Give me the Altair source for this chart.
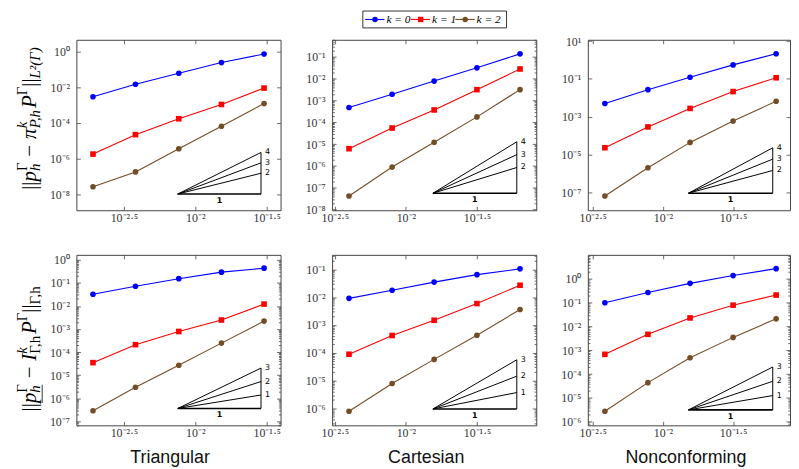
import math
import altair as alt
import pandas as pd

# ---------------- data ----------------
SERIES = ["k = 0", "k = 1", "k = 2"]
COLORS = ["#0000ff", "#ff0000", "#734d26"]
SHAPES = ["circle", "square", "circle"]
COLUMN_TITLES = ["Triangular", "Cartesian", "Nonconforming"]

h_triangular = [0.00192, 0.00381, 0.00766, 0.01524, 0.0303]
h_cartesian = [0.00398, 0.0080, 0.0158, 0.0316, 0.0635]
h_nonconforming = [0.00386, 0.00782, 0.0156, 0.0316, 0.0640]

# row 1 : L2(Gamma) error
l2_tri = [[3.0e-3, 1.48e-2, 6.2e-2, 2.45e-1, 7.4e-1],
          [1.82e-6, 2.24e-5, 1.74e-4, 1.10e-3, 9.1e-3],
          [2.7e-8, 1.82e-7, 3.6e-6, 6.6e-5, 1.23e-3]]
l2_cart = [[4.8e-4, 1.95e-3, 7.8e-3, 3.16e-2, 1.38e-1],
           [6.2e-6, 5.5e-5, 3.7e-4, 3.16e-3, 2.8e-2],
           [4.2e-8, 8.9e-7, 1.23e-5, 1.78e-4, 3.16e-3]]
l2_nonc = [[5.0e-3, 2.7e-2, 1.23e-1, 5.5e-1, 2.14],
           [2.3e-5, 2.9e-4, 2.75e-3, 2.14e-2, 1.15e-1],
           [6.5e-8, 2.0e-6, 4.4e-5, 5.9e-4, 6.6e-3]]
# row 2 : discrete norm error
dn_tri = [[3.2e-2, 7.1e-2, 1.51e-1, 2.9e-1, 4.3e-1],
          [3.5e-5, 2.1e-4, 7.8e-4, 2.45e-3, 1.2e-2],
          [2.9e-7, 3.0e-6, 2.7e-5, 2.45e-4, 2.2e-3]]
dn_cart = [[9.1e-3, 1.78e-2, 3.5e-2, 6.5e-2, 1.05e-1],
           [8.9e-5, 4.2e-4, 1.48e-3, 5.9e-3, 2.7e-2],
           [7.9e-7, 7.9e-6, 5.8e-5, 4.3e-4, 3.6e-3]]
dn_nonc = [[1.0e-1, 2.7e-1, 6.5e-1, 1.38, 2.7],
           [6.8e-4, 4.7e-3, 2.3e-2, 7.9e-2, 2.1e-1],
           [2.75e-6, 4.4e-5, 4.9e-4, 3.5e-3, 2.1e-2]]

X_TICK_EXP = [-2.5, -2.0, -1.5]
X_DOMAIN_EXP = [[-2.833, -1.403], [-2.519, -1.083], [-2.535, -1.095]]

Y_DOMAIN_EXP_TOP = [[-8.889, 0.667], [-8.03, -0.214], [-7.943, 1.068]]
Y_LABELS_TOP = [[0, -2, -4, -6, -8], [-1, -2, -3, -4, -5, -6, -7, -8], [1, -1, -3, -5, -7]]
Y_MINOR_TOP = [False, True, False]
Y_DOMAIN_EXP_BOT = [[-7.17, 0.21], [-6.61, -0.475], [-6.15, 1.01]]
Y_LABELS_BOT = [[0, -1, -2, -3, -4, -5, -6, -7], [-1, -2, -3, -4, -5, -6], [0, -1, -2, -3, -4, -5, -6]]
Y_MINOR_BOT = [True, True, True]

# slope triangles: x extent (log10), base (log10), slopes
TRI_X = [[-2.123, -1.54], [-1.81, -1.22], [-1.818, -1.218]]
TRI_BASE_TOP = [-7.98, -7.25, -7.04]
TRI_BASE_BOT = [-6.44, -6.02, -5.5]
SLOPES_TOP = [2, 3, 4]
SLOPES_BOT = [1, 2, 3]

# ---------------- styling / layout ----------------
WIDTHS = [206, 206, 204]
H = 172
HSP = 52
VSP = 45
FRAME = "#444444"
LABEL_COLOR = "#333333"
SERIF = "Liberation Serif"
SANS = "Liberation Sans"
ONE = pd.DataFrame({"a": [1]})

SUPMAP = str.maketrans("0123456789-.", "⁰¹²³⁴⁵⁶⁷⁸⁹⁻·")


def pow10_label(e):
    return "10" + f"{e:g}".translate(SUPMAP)


def label_expr(exps):
    key = "round(2*log(datum.value)/LN10)"
    expr = "''"
    for e in reversed(exps):
        expr = f"{key} == {int(round(2 * e))} ? '{pow10_label(e)}' : ({expr})"
    return expr


def label_axis(orient, exps, pad):
    return alt.Axis(orient=orient, values=[10 ** e for e in exps], labelExpr=label_expr(exps),
                    ticks=False, domain=False, grid=False, title=None, labelFont=SERIF,
                    labelFontSize=12, labelColor=LABEL_COLOR, labelPadding=pad,
                    labelFlush=False, labelOverlap=False, labelBound=False)


def tick_axis(orient, offset, values, size):
    return alt.Axis(orient=orient, offset=offset, values=values, ticks=True, tickSize=size,
                    tickWidth=0.8, tickColor=FRAME, labels=False, domain=False, grid=False,
                    title=None)


def minor_values(lo, hi):
    vals = []
    for n in range(math.floor(lo) - 1, math.ceil(hi) + 1):
        for m in range(2, 10):
            v = m * 10 ** n
            if 10 ** lo < v < 10 ** hi:
                vals.append(v)
    return vals


# ---------- rich (sub/superscript) rotated titles ----------
CW_IT = {"p": .5, "h": .5, "k": .444, "P": .611, "I": .333, "L": .556, "π": .52, ",": .25,
         "²": .3, "(": .333, ")": .333}
CW_RM = {"|": .2, "−": .564, "Γ": .578, ",": .25, "h": .5}
MAIN, SMALL = 21, 15
GAP = 0.28  # em of space around the binary minus


def tw(s, size, italic):
    tbl = CW_IT if italic else CW_RM
    return sum(tbl.get(c, 0.5) for c in s) * size


def title_layers(items, xb, yc, underline_first_p=False):
    placed = []
    adv = 0.0
    p_span = None
    for it in items:
        if it == "GAP":
            adv += GAP * MAIN
            continue
        group = it if isinstance(it, list) else [it]
        wmax = 0
        for t, lvl, ital in group:
            size = MAIN if lvl == 0 else SMALL
            shift = 0 if lvl == 0 else (-9.0 if lvl > 0 else 4.5)
            placed.append((t, size, ital, shift, adv))
            w = tw(t, size, ital)
            if t == "p" and p_span is None:
                p_span = (adv, adv + w)
            wmax = max(wmax, w)
        adv += wmax
    start = yc + adv / 2
    layers = []
    for t, size, ital, shift, a in placed:
        layers.append(
            alt.Chart(ONE).mark_text(angle=270, align="left", baseline="alphabetic", font=SERIF,
                                     fontSize=size, fontStyle="italic" if ital else "normal",
                                     color="black")
            .encode(x=alt.value(xb + shift), y=alt.value(start - a), text=alt.value(t)))
    if underline_first_p and p_span:
        layers.append(alt.Chart(ONE).mark_rule(color="black", strokeWidth=0.8).encode(
            x=alt.value(xb + 6.5), y=alt.value(start - p_span[0]), y2=alt.value(start - p_span[1] - 8)))
    return layers


TOP_TITLE = [("||", 0, False), ("p", 0, True), [("h", -1, True), ("Γ", 1, False)],
             "GAP", ("−", 0, False), "GAP", ("π", 0, True), [("P,h", -1, True), ("k", 1, True)],
             ("P", 0, True), ("Γ", 1, False), ("||", 0, False), ("L²(Γ)", -1, True)]
BOT_TITLE = [("||", 0, False), ("p", 0, True), [("h", -1, True), ("Γ", 1, False)],
             "GAP", ("−", 0, False), "GAP", ("I", 0, True), [("Γ,h", -1, False), ("k", 1, True)],
             ("P", 0, True), ("Γ", 1, False), ("||", 0, False), ("Γ,h", -1, False)]


def legend_layers():
    layers = [alt.Chart(ONE).mark_rect(fill="white", stroke="black", strokeWidth=0.8).encode(
        x=alt.value(31), x2=alt.value(176), y=alt.value(-29), y2=alt.value(-12))]
    yc = -20.5
    starts = [33.3, 79.3, 124.3]
    for i, s in enumerate(starts):
        layers.append(alt.Chart(ONE).mark_rule(color=COLORS[i], strokeWidth=1.1).encode(
            x=alt.value(s), x2=alt.value(s + 19.5), y=alt.value(yc)))
        layers.append(alt.Chart(ONE).mark_point(filled=True, opacity=1, size=30).encode(
            x=alt.value(s + 10), y=alt.value(yc), color=alt.value(COLORS[i]),
            shape=alt.value(SHAPES[i])))
        layers.append(alt.Chart(ONE).mark_text(align="left", baseline="middle", font=SERIF,
                                               fontSize=11.5, fontStyle="italic", color="black").encode(
            x=alt.value(s + 21.5), y=alt.value(yc + 0.5), text=alt.value(SERIES[i])))
    return layers


def panel(col, h, errs, ydom, ylabs, minor, tri_x, tri_base, slopes, extra):
    W = WIDTHS[col]
    xd = X_DOMAIN_EXP[col]
    xs = alt.Scale(type="log", domain=[10 ** xd[0], 10 ** xd[1]], nice=False)
    ys = alt.Scale(type="log", domain=[10 ** ydom[0], 10 ** ydom[1]], nice=False)

    def X(ax):
        return alt.X("h:Q", scale=xs, axis=ax)

    def Y(ax):
        return alt.Y("err:Q", scale=ys, axis=ax)

    rows = [{"h": hv, "err": ev, "k": SERIES[i]} for i, e in enumerate(errs) for hv, ev in zip(h, e)]
    df = pd.DataFrame(rows)
    color = alt.Color("k:N", scale=alt.Scale(domain=SERIES, range=COLORS), legend=None)
    shape = alt.Shape("k:N", scale=alt.Scale(domain=SERIES, range=SHAPES), legend=None)
    xv = [10 ** e for e in X_TICK_EXP]
    yv = [10 ** e for e in ylabs]
    base = alt.Chart(df)

    layers = []
    # inward ticks on bottom and left edges
    layers.append(base.mark_point(opacity=0).encode(
        x=X(tick_axis("top", -H, xv, 4)), y=Y(tick_axis("right", -W, yv, 4))))
    if minor:
        mv = minor_values(ydom[0], ydom[1])
        layers.append(base.mark_point(opacity=0).encode(
            x=X(None), y=Y(tick_axis("right", -W, mv, 2.2))))
        layers.append(base.mark_point(opacity=0).encode(
            x=X(None), y=Y(tick_axis("left", -W, mv, 2.2))))

    # slope triangle
    x0, x1 = 10 ** tri_x[0], 10 ** tri_x[1]
    yb = 10 ** tri_base
    tops = [yb * (x1 / x0) ** s for s in slopes]
    seg = [{"seg": "base", "o": 0, "h": x0, "err": yb, "w": 1.6},
           {"seg": "base", "o": 1, "h": x1, "err": yb, "w": 1.6},
           {"seg": "vert", "o": 0, "h": x1, "err": yb, "w": 1.0},
           {"seg": "vert", "o": 1, "h": x1, "err": max(tops), "w": 1.0}]
    for s, t in zip(slopes, tops):
        seg += [{"seg": f"s{s}", "o": 0, "h": x0, "err": yb, "w": 1.0},
                {"seg": f"s{s}", "o": 1, "h": x1, "err": t, "w": 1.0}]
    layers.append(alt.Chart(pd.DataFrame(seg)).mark_line(color="black").encode(
        x=X(None), y=Y(None), detail="seg:N", order="o:Q",
        strokeWidth=alt.StrokeWidth("w:Q", scale=None)))
    layers.append(alt.Chart(pd.DataFrame({"h": [x1] * len(slopes), "err": tops,
                                          "t": [str(s) for s in slopes]}))
                  .mark_text(align="left", baseline="middle", dx=4, font="DejaVu Sans", fontSize=8,
                             color="black")
                  .encode(x=X(None), y=Y(None), text="t:N"))
    layers.append(alt.Chart(pd.DataFrame({"h": [math.sqrt(x0 * x1)], "err": [yb], "t": ["1"]}))
                  .mark_text(align="center", baseline="top", dy=3, font="DejaVu Sans", fontSize=8,
                             fontWeight="bold", color="black")
                  .encode(x=X(None), y=Y(None), text="t:N"))

    # series
    layers.append(base.mark_line(strokeWidth=1.1).encode(
        x=X(label_axis("bottom", X_TICK_EXP, 2)), y=Y(label_axis("left", ylabs, 7)),
        color=color, detail="k:N"))
    layers.append(base.mark_point(filled=True, opacity=1, size=32).encode(
        x=X(tick_axis("bottom", -H, xv, 4)), y=Y(tick_axis("left", -W, yv, 4)),
        color=color, shape=shape))
    layers += extra
    return alt.layer(*layers).resolve_axis(x="independent", y="independent").properties(
        width=W, height=H)


def col_title(col):
    cx = [94.5, 95.0, 99.0][col]
    return alt.Chart(ONE).mark_text(align="center", baseline="alphabetic", font=SANS, fontSize=18,
                                    color="#111111").encode(
        x=alt.value(cx), y=alt.value(H + 38), text=alt.value(COLUMN_TITLES[col]))


H_ALL = [h_triangular, h_cartesian, h_nonconforming]
TOP = [l2_tri, l2_cart, l2_nonc]
BOT = [dn_tri, dn_cart, dn_nonc]

anchor = alt.Chart(ONE).mark_rect(color="white").encode(
    x=alt.value(-68), x2=alt.value(-67), y=alt.value(0), y2=alt.value(1))

top_panels = []
bot_panels = []
for c in range(3):
    extra_t = []
    extra_b = [col_title(c)]
    if c == 0:
        extra_t = [anchor] + title_layers(TOP_TITLE, -41, 80)
        extra_b += title_layers(BOT_TITLE, -41, 94, underline_first_p=True)
    if c == 1:
        extra_t = legend_layers()
    top_panels.append(panel(c, H_ALL[c], TOP[c], Y_DOMAIN_EXP_TOP[c], Y_LABELS_TOP[c],
                            Y_MINOR_TOP[c], TRI_X[c], TRI_BASE_TOP[c], SLOPES_TOP, extra_t))
    bot_panels.append(panel(c, H_ALL[c], BOT[c], Y_DOMAIN_EXP_BOT[c], Y_LABELS_BOT[c],
                            Y_MINOR_BOT[c], TRI_X[c], TRI_BASE_BOT[c], SLOPES_BOT, extra_b))

chart = alt.concat(
    *(top_panels + bot_panels), columns=3,
    spacing={"row": VSP, "column": HSP}, bounds="flush",
).properties(padding=0).configure_view(stroke=FRAME, strokeWidth=1).configure_axis(grid=False)

chart.save("out.html", embed_options={"renderer": "svg", "actions": False})
